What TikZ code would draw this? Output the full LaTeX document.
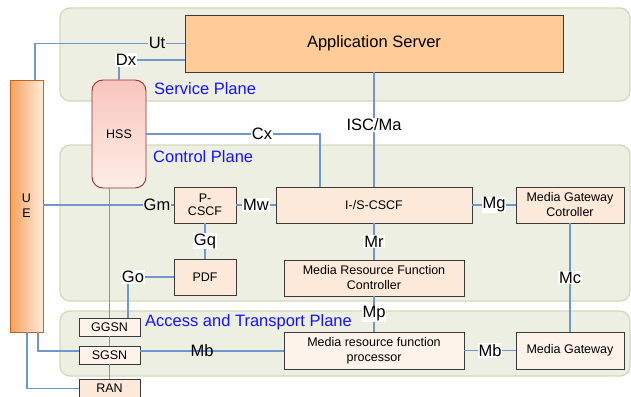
\documentclass[tikz,border=0pt]{standalone}
\usepackage{fontspec}
\setmainfont{Liberation Sans}
\usetikzlibrary{positioning}
\definecolor{planefill}{HTML}{EEEFE3}
\definecolor{planedraw}{HTML}{D4D8BC}
\definecolor{asfill}{HTML}{FFCC99}
\definecolor{boxfill}{HTML}{FDE9D9}
\definecolor{boxlight}{HTML}{FEF3EB}
\definecolor{boxdraw}{HTML}{3A3A3A}
\definecolor{conncol}{HTML}{7096CE}
\definecolor{uedark}{HTML}{F5A05C}
\definecolor{uelight}{HTML}{FEEBDC}
\definecolor{uedraw}{HTML}{C8601E}
\definecolor{hsstop}{HTML}{F8C6BE}
\definecolor{hssbot}{HTML}{FDEEE6}
\definecolor{hssdraw}{HTML}{9E2C2C}
\definecolor{planetext}{HTML}{1414F5}
\tikzset{
  plane/.style={fill=planefill, draw=planedraw, line width=1.3pt, rounded corners=10pt},
  box/.style={draw=boxdraw, line width=0.9pt, fill=boxfill, align=center, inner sep=0pt,
    font=\fontsize{12.5}{15}\selectfont},
  boxl/.style={box, fill=boxlight},
  conn/.style={draw=conncol, line width=1.1pt},
  iflabel/.style={font=\fontsize{16.5}{18}\selectfont, inner sep=1pt, fill=white},
  planelabel/.style={font=\fontsize{16.5}{18}\selectfont, text=planetext, anchor=west, inner sep=0pt},
}
\begin{document}
\begin{tikzpicture}[x=1pt,y=-1pt]
\useasboundingbox (0,0) rectangle (631,396);
% planes
\draw[plane] (60,8) rectangle (630,101);
\draw[plane] (60,145) rectangle (630,301);
\draw[plane] (60,311) rectangle (630,376);
\node[planelabel] (splabel) at (154,89) {Service Plane};
\node[planelabel] (cplabel) at (153,157) {Control Plane};
\node[planelabel] (aplabel) at (145,322) {Access and Transport Plane};
% nodes
\node[box, fill=asfill, minimum width=378pt, minimum height=57pt, font=\fontsize{16.5}{18}\selectfont] (AS) at (374,43.5) {Application Server};
\node[draw=hssdraw, line width=0.9pt, rounded corners=11pt, top color=hsstop, bottom color=hssbot,
  minimum width=54pt, minimum height=108pt, inner sep=0pt, font=\fontsize{12.5}{15}\selectfont] (HSS) at (119,134) {HSS};
\node[draw=uedraw, line width=0.9pt, left color=uedark, right color=uelight,
  minimum width=33pt, minimum height=252pt, inner sep=0pt, align=center,
  font=\fontsize{12.5}{15}\selectfont] (UE) at (26.5,206) {U\\E};
\node[box, minimum width=62pt, minimum height=36pt, font=\fontsize{12.5}{13.5}\selectfont] (PCSCF) at (205,205) {P-\\CSCF};
\node[box, minimum width=62pt, minimum height=36pt] (PDF) at (205,277) {PDF};
\node[box, minimum width=196pt, minimum height=36pt] (ISCSCF) at (374,205) {I-/S-CSCF};
\node[box, minimum width=108pt, minimum height=36pt] (MGC) at (570,205) {Media Gateway\\Cotroller};
\node[box, minimum width=180pt, minimum height=36pt] (MRFC) at (374,278) {Media Resource Function\\Controller};
\node[boxl, minimum width=180pt, minimum height=37pt] (MRFP) at (374,350.5) {Media resource function\\processor};
\node[boxl, minimum width=108pt, minimum height=37pt] (MG) at (570,350.5) {Media Gateway};
\node[boxl, minimum width=61pt, minimum height=18pt] (GGSN) at (109.5,327) {GGSN};
\node[boxl, minimum width=61pt, minimum height=18pt] (SGSN) at (109.5,355) {SGSN};
\node[box, minimum width=61pt, minimum height=19pt] (RAN) at (109.5,388.5) {RAN};
% connectors
\draw[conn] ([xshift=8.5pt]UE.north) |- (AS.west);
\node[iflabel, fill=planefill] (ut) at (157,43) {Ut};
\draw[conn] (HSS.north) |- ([yshift=-16.5pt]AS.west);
\node[iflabel] (dx) at (126,60) {Dx};
\draw[conn] (HSS.east) -| ([xshift=-54pt]ISCSCF.north);
\node[iflabel] (cx) at (262,134) {Cx};
\draw[conn] (AS.south) -- (ISCSCF.north);
\node[iflabel] (isc) at (374,125) {ISC/Ma};
\draw[conn] (UE.east |- PCSCF.west) -- (PCSCF.west);
\node[iflabel, fill=planefill] (gm) at (157,205) {Gm};
\draw[conn] (PCSCF.east) -- node[iflabel] (mw) {Mw} (ISCSCF.west);
\draw[conn] (ISCSCF.east) -- node[iflabel] (mg) {Mg} (MGC.west);
\draw[conn] (PCSCF.south) -- node[iflabel] (gq) {Gq} (PDF.north);
\draw[conn] (ISCSCF.south) -- node[iflabel] (mr) {Mr} (MRFC.north);
\draw[conn] (MRFC.south) -- node[iflabel] (mp) {Mp} (MRFP.north);
\draw[conn] (MGC.south) -- node[iflabel] (mc) {Mc} (MG.north);
\draw[conn] (MRFP.east) -- node[iflabel] (mb2) {Mb} (MG.west);
\draw[conn] (PDF.west) -| ([xshift=18.5pt]GGSN.north);
\node[iflabel] (go) at (133,277) {Go};
\draw[conn] (GGSN.north |- HSS.south) -- (GGSN.north);
\draw[conn] (GGSN.south) -- (SGSN.north);
\draw[conn] (SGSN.south) -- (RAN.north);
\draw[conn] ([xshift=11.5pt]UE.south) |- ([yshift=4pt]SGSN.west);
\draw[conn] ([xshift=0.5pt]UE.south) |- (RAN.west);
\draw[conn] ([yshift=4pt]SGSN.east) -- ([yshift=4pt]SGSN.east -| MRFP.west);
\node[font=\fontsize{16.5}{18}\selectfont, inner sep=0pt] (mb) at (202,351) {Mb};
\end{tikzpicture}
\end{document}
